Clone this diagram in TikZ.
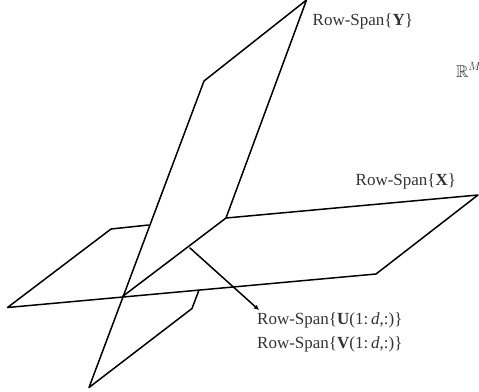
\documentclass[tikz,border=0pt]{standalone}
\usepackage{amssymb}
\usepackage{fontspec}
\setmainfont{Liberation Serif}
\usetikzlibrary{arrows.meta}
\tikzset{
  plane/.style={draw=black,line width=1.5bp,line join=round,line cap=round},
  lab/.style={inner sep=0pt,anchor=west,text=black!80,font=\fontsize{17bp}{19bp}\selectfont},
}
\newcommand{\bra}[1]{\{#1\}}
\begin{document}
\begin{tikzpicture}[x=1bp,y=-1bp]
\useasboundingbox (0,0) rectangle (479,391);
\coordinate (a) at (7.5,307.5);
\coordinate (b) at (376,274);
\coordinate (c) at (478,195);
\coordinate (d) at (226,218);
\coordinate (e) at (122.5,296.5);
\coordinate (f) at (111,229);
\coordinate (g) at (148.5,225);
\coordinate (h) at (306.5,0);
\coordinate (i) at (204,81);
\coordinate (j) at (89,387.5);
\coordinate (k) at (192,308.5);
\coordinate (l) at (199,290);
\coordinate (m) at (190,248);
\coordinate (n) at (259,310);
\draw[plane] (e) -- (d) -- (c) -- (b) -- (a) -- (f) -- (g);
\draw[plane] (l) -- (k) -- (j) -- (i) -- (h) -- (d);
\draw[plane,-{Latex[length=5bp,width=5bp]}] (m) -- (n);
\node[lab] (ly) at (312.5,21.5) {Row-Span\bra{\textbf{Y}}};
\node[lab] (lx) at (355.5,181) {Row-Span\bra{\textbf{X}}};
\node[lab] (lu) at (257,320.5) {Row-Span\bra{\textbf{U}(1:\,\textit{d},:)}};
\node[lab] (lv) at (257,344) {Row-Span\bra{\textbf{V}(1:\,\textit{d},:)}};
\node[lab] (lr) at (456,70) {$\mathbb{R}^{M}$};
\end{tikzpicture}
\end{document}
